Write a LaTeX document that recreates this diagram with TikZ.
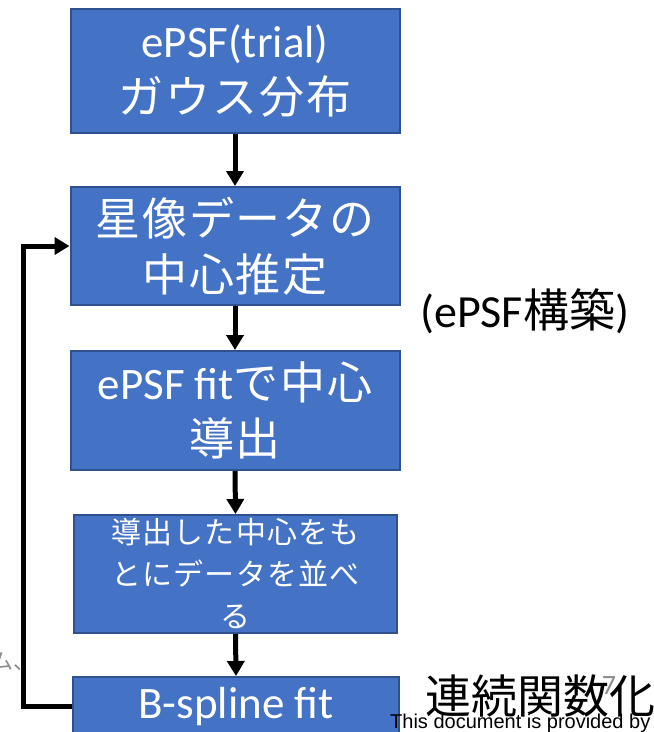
\documentclass[tikz,border=0pt]{standalone}
\usepackage{fontspec}
\setmainfont{Carlito}
\newfontfamily\jp[LetterSpace=4]{Noto Sans CJK JP}
\newfontfamily\jpplain{Noto Sans CJK JP}
\newfontfamily\arial{Liberation Sans}
\usetikzlibrary{arrows.meta}
\definecolor{boxblue}{HTML}{4472C4}
\definecolor{boxedge}{HTML}{2F528F}
\definecolor{faint}{HTML}{8C8C8C}
\begin{document}
\begin{tikzpicture}[x=1pt,y=-1pt,
  flowbox/.style={draw=boxedge, line width=2pt, fill=boxblue, text=white,
    align=center, inner sep=0pt, font=\fontsize{45}{56}\selectfont},
  arr/.style={line width=5pt, -{Triangle[width=17pt,length=15pt]}},
  sidetext/.style={inner sep=0pt, text=black}
]
\useasboundingbox (0,0) rectangle (654,732);

\node[flowbox, minimum width=329pt, minimum height=124pt] (b1) at (235,70.5)
  {ePSF(trial)\\{\jp ガウス分布}};
\node[flowbox, minimum width=329pt, minimum height=118pt] (b2) at (235,246)
  {{\jp 星像データの}\\{\jp 中心推定}};
\node[flowbox, minimum width=329pt, minimum height=119pt] (b3) at (235,410.5)
  {ePSF fit{\jp で中心}\\{\jp 導出}};
\node[flowbox, minimum width=323pt, minimum height=118pt,
  font=\jp\fontsize{30}{42}\selectfont] (b4) at (235.5,574)
  {導出した中心をも\\とにデータを並べ\\る};
\node[flowbox, minimum width=326pt, minimum height=58pt] (b5) at (236,706)
  {B-spline fit};

\draw[arr] (b1.south) -- (b2.north);
\draw[arr] (b2.south) -- (b3.north);
\draw[arr] (b3.south) -- (b4.north);
\draw[arr] (b4.south) -- (b5.north);

\coordinate (lp) at (23,706);
\draw[arr] (b5.west) -- (lp) |- (b2.west);

\node[sidetext, anchor=west, font=\fontsize{46}{50}\selectfont] (t1) at (420,311)
  {(ePSF{\jpplain 構築})};
\node[sidetext, anchor=west, font=\jpplain\fontsize{46}{50}\selectfont] (t2) at (425,696)
  {連続関数化};
\node[sidetext, text=faint, font=\fontsize{28}{30}\selectfont] (t4) at (609,686) {7};
\node[sidetext, anchor=base west, font=\arial\fontsize{20}{22}\selectfont] (t3) at (390,728)
  {This document is provided by};
\node[sidetext, anchor=east, text=faint, font=\jpplain\fontsize{22}{24}\selectfont] (t5) at (36,662)
  {ム、};
\end{tikzpicture}
\end{document}
